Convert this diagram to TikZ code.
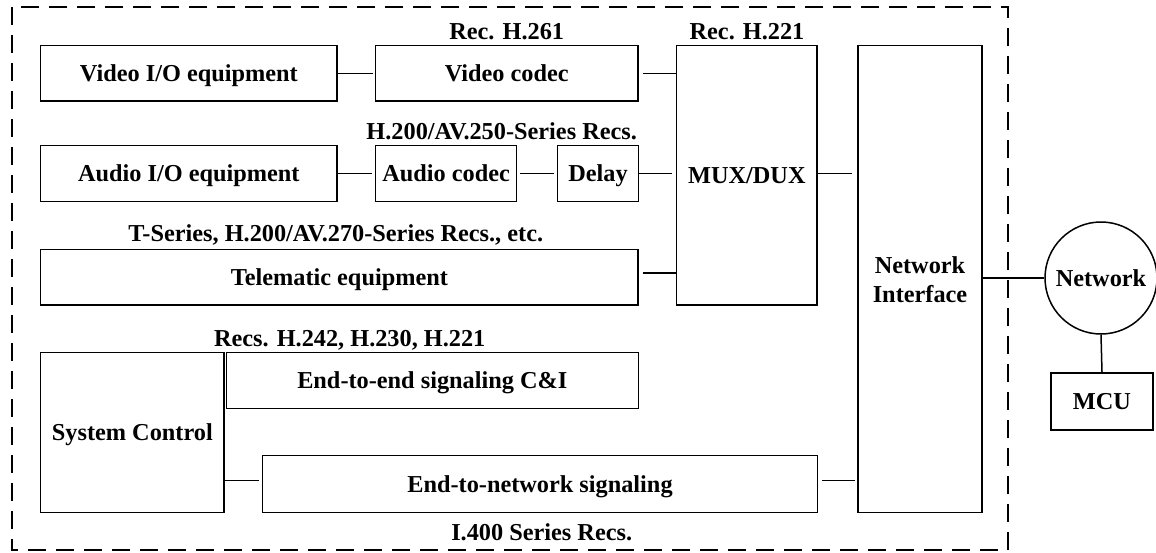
\documentclass[tikz,border=0pt]{standalone}
\usepackage{fontspec}
\setmainfont{Liberation Serif}
\begin{document}
\begin{tikzpicture}[x=1pt,y=-1pt,
  box/.style={draw, line width=1.5pt, inner sep=0pt, align=center},
  onebox/.style={box, text height=16pt, text depth=0pt},
  lbl/.style={inner sep=0pt, anchor=base},
  conn/.style={line width=1.5pt},
  border/.style={line width=2pt, dash pattern=on 18pt off 10pt},
  every node/.style={font=\bfseries\fontsize{24.3}{29}\selectfont}]
\useasboundingbox (0,0) rectangle (1156,552);
\draw[border] (11.7,6.5) rectangle (1008,550);

\node[onebox, minimum width=296.3pt, minimum height=55.3pt] (vio) at (188.85,73.35) {Video I/O equipment};
\node[onebox, minimum width=262.5pt, minimum height=55.3pt] (vcodec) at (506.75,73.35) {Video codec};
\node[onebox, minimum width=140.3pt, minimum height=259.3pt] (mux) at (746.85,175.35) {MUX/DUX};
\node[onebox, minimum width=296.3pt, minimum height=56pt] (aio) at (188.85,173.7) {Audio I/O equipment};
\node[onebox, minimum width=141.2pt, minimum height=56pt] (acodec) at (446.1,173.7) {Audio codec};
\node[onebox, minimum width=80.6pt, minimum height=56pt] (delay) at (598,173.7) {Delay};
\node[onebox, minimum width=597.3pt, minimum height=55.7pt] (tele) at (339.35,277.15) {Telematic equipment};
\node[box, minimum width=124pt, minimum height=467pt] (ni) at (920,279.2) {Network\\Interface};
\node[onebox, minimum width=183.3pt, minimum height=159.8pt] (sc) at (132.35,432.6) {System Control};
\node[onebox, minimum width=412pt, minimum height=55.6pt] (e2e) at (432.3,380.5) {End-to-end signaling C\&I};
\node[onebox, minimum width=554.6pt, minimum height=57pt] (e2n) at (540,484.2) {End-to-network signaling};
\node[onebox, circle, minimum size=112pt] (net) at (1101,278) {Network};
\node[onebox, minimum width=102pt, minimum height=57pt] (mcu) at (1102,401.5) {MCU};

\node[lbl] (l1) at (506.7,39) {Rec. H.261};
\node[lbl] (l2) at (747,39) {Rec. H.221};
\node[lbl] (l3) at (501.7,139) {H.200/AV.250-Series Recs.};
\node[lbl] (l4) at (335.8,241) {T-Series, H.200/AV.270-Series Recs., etc.};
\node[lbl] (l5) at (349.7,346) {Recs. H.242, H.230, H.221};
\node[lbl] (l6) at (541.7,540) {I.400 Series Recs.};

\draw[conn] (vio.east) -- ([xshift=-2pt]vcodec.west);
\draw[conn] ([xshift=4pt]vcodec.east) -- (vcodec.east -| mux.west);
\draw[conn] (aio.east) -- ([xshift=-3pt]acodec.west);
\draw[conn] ([xshift=3pt]acodec.east) -- ([xshift=-3pt]delay.west);
\draw[conn] (delay.east) -- ([xshift=-4pt]delay.east -| mux.west);
\draw[conn] (delay.east -| mux.east) -- ([xshift=-5pt]delay.east -| ni.west);
\draw[conn] ([xshift=4pt,yshift=4pt]tele.east) -- ([yshift=4pt]tele.east -| mux.west);
\draw[conn] ([yshift=3.5pt]e2n.west -| sc.east) -- ([xshift=-3pt,yshift=3.5pt]e2n.west);
\draw[conn] ([xshift=4pt,yshift=3.5pt]e2n.east) -- ([xshift=-2pt,yshift=3.5pt]e2n.east -| ni.west);
\draw[conn] (net.west -| ni.east) -- (net.west);
\draw[conn] (net.south) -- (mcu.north);
\end{tikzpicture}
\end{document}
